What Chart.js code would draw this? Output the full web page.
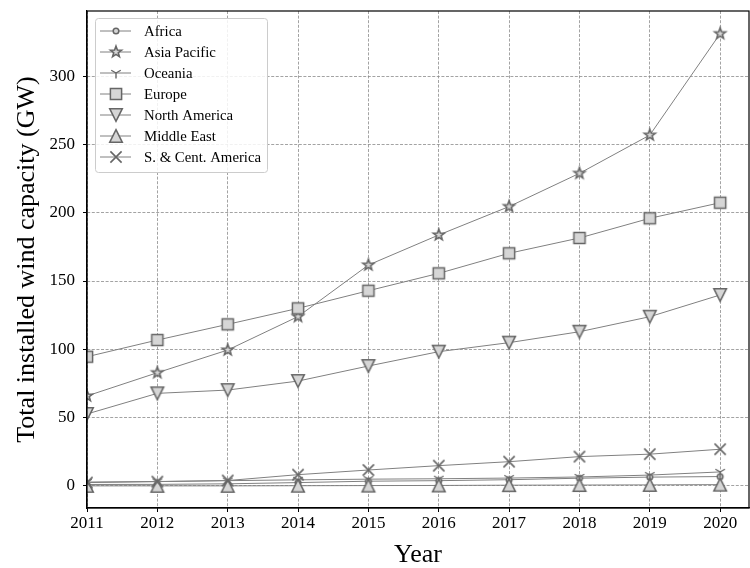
<!DOCTYPE html>
<html>
<head>
<meta charset="utf-8">
<script src="https://cdn.jsdelivr.net/npm/chart.js@4/dist/chart.umd.min.js"></script>
<style>
html,body{margin:0;padding:0;background:#fff;}
#wrap{width:750px;height:568px;position:relative;}
</style>
</head>
<body>
<div id="wrap"><canvas id="c" width="750" height="568"></canvas></div>
<script>
// ---- data ----
const years = [2011, 2012, 2013, 2014, 2015, 2016, 2017, 2018, 2019, 2020];
const xTickValues = [2011, 2012, 2013, 2014, 2015, 2016, 2017, 2018, 2019, 2020];
const yTickValues = [0, 50, 100, 150, 200, 250, 300];
const seriesNames = ['Africa', 'Asia Pacific', 'Oceania', 'Europe', 'North America', 'Middle East', 'S. & Cent. America'];
const africa      = [1.1, 1.2, 1.6, 2.5, 3.5, 3.9, 4.6, 5.7, 6.5, 6.9];
const asiaPacific = [65.9, 82.9, 99.5, 124.0, 161.7, 183.7, 204.5, 228.8, 256.8, 331.0];
const oceania     = [2.9, 3.3, 3.9, 4.5, 5.0, 5.3, 5.8, 6.6, 8.0, 10.3];
const europe      = [94.6, 106.8, 118.3, 130.0, 142.9, 155.6, 170.3, 181.5, 195.9, 207.3];
const northAmerica= [52.7, 67.8, 70.2, 76.8, 87.8, 98.3, 104.9, 112.9, 123.9, 139.8];
const middleEast  = [0.1, 0.1, 0.1, 0.2, 0.3, 0.4, 0.6, 0.7, 0.8, 1.0];
const scAmerica   = [2.5, 3.2, 4.0, 8.3, 11.7, 14.9, 17.8, 21.5, 23.3, 26.9];
const seriesValues = [africa, asiaPacific, oceania, europe, northAmerica, middleEast, scAmerica];
const markerKinds = ['circle', 'star', 'tridown', 'square', 'tdown', 'tup', 'x'];

// ---- styles ----
const FONT = "'Liberation Serif', 'Times New Roman', serif";
const LINE_COLOR = '#808080';
const EDGE = '#666666';
const FACE = '#d6d6d6';

function makeMarker(kind) {
  const S = 22, c = S / 2;
  const cv = document.createElement('canvas');
  cv.width = S; cv.height = S;
  const g = cv.getContext('2d');
  g.strokeStyle = EDGE; g.fillStyle = FACE; g.lineWidth = 1.5; g.lineJoin = 'miter';
  g.beginPath();
  if (kind === 'circle') {
    g.arc(c, c, 2.8, 0, Math.PI * 2);
    g.fill(); g.stroke();
  } else if (kind === 'star') {
    const ro = 5.8, ri = 2.4;
    for (let i = 0; i < 10; i++) {
      const a = -Math.PI / 2 + i * Math.PI / 5;
      const r = i % 2 ? ri : ro;
      const px = c + r * Math.cos(a), py = c + r * Math.sin(a);
      if (i === 0) g.moveTo(px, py); else g.lineTo(px, py);
    }
    g.closePath(); g.fill(); g.lineWidth = 1.6; g.stroke();
  } else if (kind === 'tridown') {
    const L = 5.5;
    g.moveTo(c, c); g.lineTo(c, c + L);
    g.moveTo(c, c); g.lineTo(c - L * 0.866, c - L * 0.5);
    g.moveTo(c, c); g.lineTo(c + L * 0.866, c - L * 0.5);
    g.lineWidth = 1.4; g.stroke();
  } else if (kind === 'square') {
    const h = 5.6;
    g.rect(c - h, c - h, 2 * h, 2 * h);
    g.fill(); g.stroke();
  } else if (kind === 'tdown') {
    const h = 6.3;
    g.moveTo(c - h, c - h); g.lineTo(c + h, c - h); g.lineTo(c, c + h); g.closePath();
    g.fill(); g.stroke();
  } else if (kind === 'tup') {
    const h = 6.3;
    g.moveTo(c, c - h); g.lineTo(c + h, c + h); g.lineTo(c - h, c + h); g.closePath();
    g.fill(); g.stroke();
  } else if (kind === 'x') {
    const h = 5.6;
    g.moveTo(c - h, c - h); g.lineTo(c + h, c + h);
    g.moveTo(c + h, c - h); g.lineTo(c - h, c + h);
    g.lineWidth = 1.6; g.stroke();
  }
  return cv;
}
const markers = markerKinds.map(makeMarker);

const datasets = seriesNames.map((name, i) => ({
  label: name,
  data: years.map((y, j) => ({x: y, y: seriesValues[i][j]})),
  borderColor: LINE_COLOR,
  borderWidth: 1,
  backgroundColor: FACE,
  pointStyle: markers[i],
  pointRadius: 6,
  pointHoverRadius: 6,
  tension: 0,
  fill: false,
  order: seriesNames.length - i
}));

function noPad(s) { s.paddingTop = 0; s.paddingBottom = 0; s.paddingLeft = 0; s.paddingRight = 0; }

const legendAndFrame = {
  id: 'legendAndFrame',
  afterDatasetsDraw(chart) {
    const {ctx, chartArea: a} = chart;
    ctx.save();
    ctx.strokeStyle = '#000';
    ctx.lineWidth = 1.2;
    ctx.setLineDash([]);
    ctx.strokeRect(a.left, a.top, a.right - a.left, a.bottom - a.top);
    ctx.restore();
  },
  afterDraw(chart) {
    const {ctx, chartArea: a} = chart;
    ctx.save();
    const bx = a.left + 8.5, by = a.top + 7.5, bw = 172, bh = 154, r = 3;
    ctx.beginPath();
    ctx.moveTo(bx + r, by);
    ctx.lineTo(bx + bw - r, by); ctx.arcTo(bx + bw, by, bx + bw, by + r, r);
    ctx.lineTo(bx + bw, by + bh - r); ctx.arcTo(bx + bw, by + bh, bx + bw - r, by + bh, r);
    ctx.lineTo(bx + r, by + bh); ctx.arcTo(bx, by + bh, bx, by + bh - r, r);
    ctx.lineTo(bx, by + r); ctx.arcTo(bx, by, bx + r, by, r);
    ctx.closePath();
    ctx.fillStyle = 'rgba(255,255,255,0.85)';
    ctx.fill();
    ctx.strokeStyle = '#cccccc';
    ctx.lineWidth = 1;
    ctx.stroke();
    ctx.font = '14.8px ' + FONT;
    ctx.textBaseline = 'middle';
    ctx.textAlign = 'left';
    chart.data.datasets.forEach((ds, i) => {
      const y = a.top + 20 + i * 21;
      ctx.beginPath();
      ctx.strokeStyle = LINE_COLOR;
      ctx.lineWidth = 1;
      ctx.moveTo(a.left + 13, y); ctx.lineTo(a.left + 44, y);
      ctx.stroke();
      const m = ds.pointStyle;
      ctx.drawImage(m, Math.round(a.left + 28.5 - m.width / 2), Math.round(y - m.height / 2));
      ctx.fillStyle = '#000';
      ctx.fillText(ds.label, a.left + 57, y + 1);
    });
    ctx.restore();
  }
};

new Chart(document.getElementById('c'), {
  type: 'line',
  data: {datasets},
  plugins: [legendAndFrame],
  options: {
    responsive: false,
    animation: false,
    events: [],
    layout: {autoPadding: false, padding: {top: 11, right: 1, left: 0, bottom: 0}},
    plugins: {legend: {display: false}, tooltip: {enabled: false}},
    scales: {
      x: {
        type: 'linear',
        min: 2011,
        max: 2020.41,
        afterFit(s) { s.height = 60; noPad(s); },
        afterBuildTicks(s) { s.ticks = xTickValues.map(v => ({value: v})); },
        ticks: {
          color: '#000', font: {family: FONT, size: 17}, padding: 1,
          maxRotation: 0, autoSkip: false,
          callback: v => String(v)
        },
        grid: {color: '#8c8c8c', lineWidth: 0.8, tickLength: 4, tickColor: '#000', tickWidth: 1, tickBorderDash: []},
        border: {display: true, color: '#000', width: 1.2, dash: [3, 1.6]},
        title: {display: true, text: 'Year', color: '#000', font: {family: FONT, size: 26}, padding: {top: 0, bottom: -3}}
      },
      y: {
        type: 'linear',
        min: -16.1,
        max: 347.6,
        afterFit(s) { s.width = 87; noPad(s); },
        afterBuildTicks(s) { s.ticks = yTickValues.map(v => ({value: v})); },
        ticks: {color: '#000', font: {family: FONT, size: 17}, padding: 8, callback: v => String(v)},
        grid: {color: '#8c8c8c', lineWidth: 0.8, tickLength: 4, tickColor: '#000', tickWidth: 1, tickBorderDash: []},
        border: {display: true, color: '#000', width: 1.2, dash: [3, 1.6]},
        title: {display: true, text: 'Total installed wind capacity (GW)', color: '#000', font: {family: FONT, size: 26}, padding: {top: 12, bottom: 0}}
      }
    }
  }
});
</script>
</body>
</html>
